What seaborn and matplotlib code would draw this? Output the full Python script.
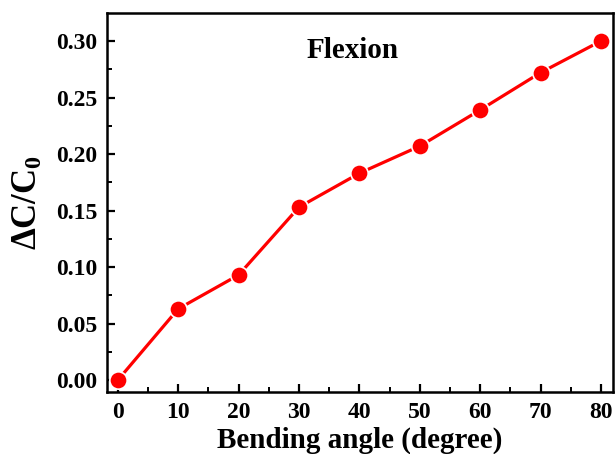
import matplotlib
matplotlib.use("Agg")
import matplotlib.pyplot as plt
from matplotlib.ticker import MultipleLocator, FormatStrFormatter
import seaborn as sns
import pandas as pd

angles = [0, 10, 20, 30, 40, 50, 60, 70, 80]
response = [0.000, 0.063, 0.093, 0.153, 0.183, 0.207, 0.239, 0.272, 0.300]

sns.set_style("ticks", {"axes.edgecolor": "black", "text.color": "black",
                        "axes.labelcolor": "black", "xtick.color": "black",
                        "ytick.color": "black"})
plt.rcParams["font.family"] = ["Liberation Serif", "DejaVu Serif"]
plt.rcParams["font.weight"] = "bold"
plt.rcParams["mathtext.fontset"] = "custom"
plt.rcParams["mathtext.rm"] = "Liberation Serif:bold"
plt.rcParams["mathtext.it"] = "Liberation Serif:bold"
plt.rcParams["mathtext.bf"] = "Liberation Serif:bold"

df = pd.DataFrame({"angle": angles, "dc": response})

fig = plt.figure(figsize=(6.16, 4.54), dpi=100)
ax = fig.add_axes([107 / 616, 1 - 392 / 454, (613 - 107) / 616, (392 - 13) / 454])

sns.lineplot(data=df, x="angle", y="dc", ax=ax, color="#ff0000", lw=2.3,
             marker="o", markersize=12.5, markeredgecolor="white",
             markeredgewidth=1.2, markerfacecolor="#ff0000")

ax.set_xlim(-1.8, 82.0)
ax.set_ylim(-0.0106, 0.3248)
ax.xaxis.set_major_locator(MultipleLocator(10))
ax.xaxis.set_minor_locator(MultipleLocator(5))
ax.yaxis.set_major_locator(MultipleLocator(0.05))
ax.yaxis.set_minor_locator(MultipleLocator(0.025))
ax.yaxis.set_major_formatter(FormatStrFormatter("%.2f"))
ax.tick_params(which="major", direction="in", length=6, width=1.6, labelsize=17, pad=7)
ax.tick_params(which="minor", direction="in", length=3.5, width=1.4)
for sp in ax.spines.values():
    sp.set_linewidth(1.8)
    sp.set_visible(True)
for lab in ax.get_xticklabels() + ax.get_yticklabels():
    lab.set_fontweight("bold")

ax.set_xlabel("Bending angle (degree)", fontsize=21, fontweight="bold", labelpad=3)
ax.set_ylabel(r"$\Delta$C/C$_\mathbf{0}$", fontsize=25, fontweight="bold", labelpad=8)
ax.text(38.9, 0.292, "Flexion", fontsize=21, fontweight="bold", ha="center", va="center")

fig.savefig("out.png", dpi=100)
